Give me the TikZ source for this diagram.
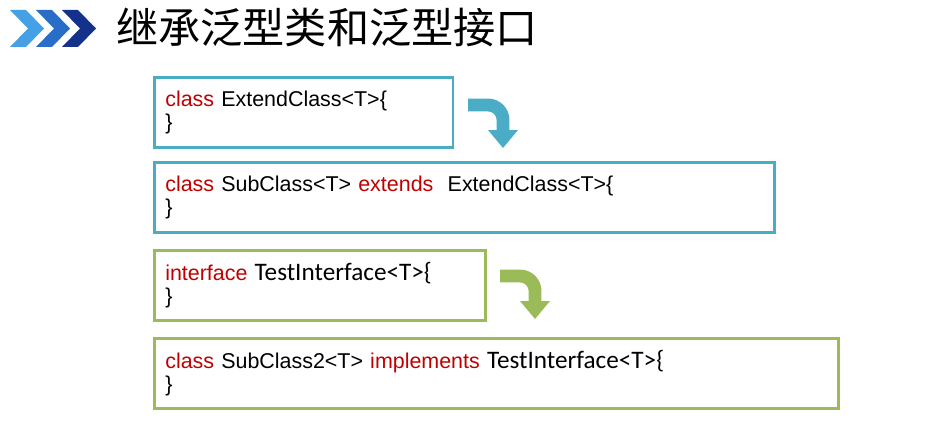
\documentclass[tikz,border=0pt]{standalone}
\usepackage{fontspec}
\setmainfont{Liberation Sans}
\newfontfamily\cjk{Noto Sans CJK SC}
\newfontfamily\calib{Carlito}
\usetikzlibrary{positioning,calc}

\definecolor{boxblue}{RGB}{75,172,198}
\definecolor{boxgreen}{RGB}{155,187,89}
\definecolor{kwred}{RGB}{192,0,0}
\definecolor{chevA}{RGB}{70,160,230}
\definecolor{chevB}{RGB}{40,110,200}
\definecolor{chevC}{RGB}{20,50,140}

\tikzset{%
    codebox/.style = {draw, line width = 2.2pt, anchor = north west,
        align = left, inner xsep = 0.33cm, minimum height = 2.1cm,
        font = \fontsize{18.3}{20}\selectfont},
    bend arrow/.style = {line width = 11pt},
}
\newcommand{\kw}[1]{\textcolor{kwred}{#1}}
\newcommand{\ifc}[1]{{\calib\fontsize{21.5}{20}\selectfont #1}}

\begin{document}
\begin{tikzpicture}[x = 0.03cm, y = -0.03cm]

    \useasboundingbox (0, 0) rectangle (948, 423);

    % Chevrons in the title bar.
    \foreach \i/\c in {0/chevA, 1/chevB, 2/chevC}{%
        \fill[\c] ({10+\i*26}, 10) -- ++(16, 0) -- ++(18, 18.5)
            -- ++(-18, 18.5) -- ++(-16, 0) -- ++(18, -18.5) -- cycle;
    }
    \node[font = \cjk\fontsize{36}{36}\selectfont, anchor = west] (title)
        at (112, 27) {继承泛型类和泛型接口};

    % The four code boxes.
    \node[codebox, draw = boxblue, text width = 8.3cm] (ext) at (153, 76)
        {\kw{class} ExtendClass<T>\{\\\}};
    \node[codebox, draw = boxblue, text width = 17.94cm] (sub) at (153, 161)
        {\kw{class} SubClass<T> \kw{extends}\ \ ExtendClass<T>\{\\\}};
    \node[codebox, draw = boxgreen, text width = 9.27cm] (iface) at (153, 249)
        {\kw{interface} \ifc{TestInterface<T>\{}\\\}};
    \node[codebox, draw = boxgreen, text width = 19.86cm] (impl) at (153, 337)
        {\kw{class} SubClass2<T> \kw{implements} \ifc{TestInterface<T>\{}\\\}};

    % Bent arrows between the boxes.
    \foreach \b/\c/\x/\y in {ext/boxblue/468/105, iface/boxgreen/500/276}{%
        \coordinate (\b-a) at (\x, \y);
        \draw[bend arrow, \c] (\b-a) -- ++(20, 0) arc (-90:0:15) -- ++(0, 10);
        \fill[\c] ($(\b-a) + (35, 25)$) -- ++(15, 0) -- ++(-15, 18) -- ++(-15, -18) -- cycle;
    }

\end{tikzpicture}
\end{document}
